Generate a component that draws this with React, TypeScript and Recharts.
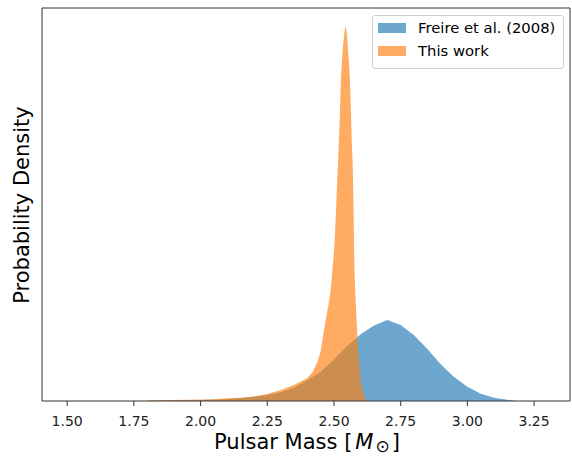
import React from 'react';
import { ComposedChart, Area, XAxis, YAxis, ReferenceLine, Legend } from 'recharts';

// Freire et al. (2008) histogram (pulsar mass -> probability density, axis tick units)
const freireMass = [1.80, 1.90, 2.00, 2.10, 2.20, 2.25, 2.30, 2.35, 2.40, 2.45, 2.50, 2.55, 2.60, 2.65, 2.70, 2.75, 2.80, 2.85, 2.90, 2.95, 3.00, 3.05, 3.10, 3.15, 3.18];
const freireDensity = [0.003, 0.01, 0.02, 0.04, 0.09, 0.13, 0.19, 0.29, 0.45, 0.63, 0.90, 1.20, 1.45, 1.64, 1.76, 1.65, 1.43, 1.13, 0.80, 0.52, 0.31, 0.16, 0.07, 0.025, 0.005];

// This work histogram
const thisWorkMass = [1.806, 1.85, 1.90, 1.95, 2.00, 2.05, 2.10, 2.15, 2.20, 2.25, 2.30, 2.35, 2.40, 2.42, 2.44, 2.45, 2.46, 2.47, 2.48, 2.485, 2.49, 2.495, 2.50, 2.504, 2.508, 2.512, 2.515, 2.519, 2.522, 2.526, 2.530, 2.535, 2.540, 2.543, 2.547, 2.551, 2.556, 2.560, 2.564, 2.566, 2.570, 2.572, 2.574, 2.576, 2.579, 2.582, 2.587, 2.590, 2.596, 2.600, 2.606, 2.614, 2.620, 2.625];
const thisWorkDensity = [0.01, 0.02, 0.02, 0.025, 0.03, 0.04, 0.06, 0.07, 0.10, 0.15, 0.24, 0.35, 0.50, 0.63, 0.88, 1.08, 1.45, 1.80, 2.10, 2.30, 2.55, 2.92, 3.25, 3.65, 4.20, 4.75, 5.17, 5.75, 6.22, 6.98, 7.40, 7.78, 8.05, 8.15, 8.05, 7.78, 7.35, 6.98, 6.22, 5.75, 5.17, 4.60, 3.90, 3.00, 2.50, 2.10, 1.48, 1.11, 0.75, 0.45, 0.25, 0.09, 0.02, 0];

const xTicks = [1.5, 1.75, 2.0, 2.25, 2.5, 2.75, 3.0, 3.25];
const yTicks = [0, 1, 2, 3, 4, 5, 6, 7, 8];
const X_MIN = 1.4056;
const X_MAX = 3.3846;
const Y_MAX = 8.54;

const seriesNames = ['Freire et al. (2008)', 'This work'];
const seriesColors = ['#1f77b4', '#ff7f0e'];

type Row = { x: number; freire?: number; thisWork?: number };
const rowMap = new Map<number, Row>();
freireMass.forEach((m, i) => {
  const r = rowMap.get(m) || { x: m };
  r.freire = freireDensity[i];
  rowMap.set(m, r);
});
thisWorkMass.forEach((m, i) => {
  const r = rowMap.get(m) || { x: m };
  r.thisWork = thisWorkDensity[i];
  rowMap.set(m, r);
});
const rows: Row[] = Array.from(rowMap.values()).sort((a, b) => a.x - b.x);

const FONT = '"DejaVu Sans", sans-serif';

const XLabel = (props: any) => {
  const vb = props.viewBox || { x: 0, y: 0, width: 0, height: 0 };
  const cx = vb.x + vb.width / 2 + 1;
  return (
    <text x={cx} y={vb.y + 48} textAnchor="middle" fontSize={21} fontFamily={FONT} fill="#000">
      Pulsar Mass [<tspan fontStyle="italic" dx={3}>M</tspan>
      <tspan fontSize={17} dx={2} dy={3}>⊙</tspan>
      <tspan dx={2} dy={-3}>]</tspan>
    </text>
  );
};

const YLabel = () => {
  const cy = 205;
  const bx = 29;
  return (
    <text
      x={bx}
      y={cy}
      textAnchor="middle"
      fontSize={21}
      fontFamily={FONT}
      fill="#000"
      transform={`rotate(-90, ${bx}, ${cy})`}
    >
      Probability Density
    </text>
  );
};

const LegendBox = () => (
  <div
    style={{
      width: 192,
      height: 54,
      border: '1px solid #d0d0d0',
      borderRadius: 3,
      background: 'rgba(255,255,255,0.8)',
      padding: '0 6px 0 5px',
      fontFamily: FONT,
      fontSize: 14.8,
      color: '#000',
      boxSizing: 'border-box',
    }}
  >
    {seriesNames.map((n, i) => (
      <div key={n} style={{ display: 'flex', alignItems: 'center', height: 23 }}>
        <span
          style={{
            display: 'inline-block',
            width: 28,
            height: 10,
            background: seriesColors[i],
            opacity: 0.65,
            marginRight: 12,
            flex: 'none',
          }}
        />
        <span style={{ lineHeight: '17px', whiteSpace: 'nowrap' }}>{n}</span>
      </div>
    ))}
  </div>
);

export default function App() {
  return (
    <div style={{ width: 572, height: 457, position: 'relative', background: '#fff' }}>
      <style>{`html, body { margin: 0; padding: 0; overflow: hidden; }`}</style>
      <ComposedChart
        width={572}
        height={457}
        data={rows}
        margin={{ top: 8, right: 2, bottom: 0, left: 0 }}
      >
        <XAxis
          dataKey="x"
          type="number"
          domain={[X_MIN, X_MAX]}
          allowDataOverflow
          ticks={xTicks}
          tickFormatter={(v: number) => v.toFixed(2)}
          tick={{ fontSize: 14, fontFamily: FONT, fill: '#222' }}
          tickSize={5}
          tickMargin={10}
          axisLine={{ stroke: '#333' }}
          tickLine={{ stroke: '#333' }}
          height={56}
          label={<XLabel />}
        />
        <YAxis
          type="number"
          domain={[0, Y_MAX]}
          allowDataOverflow
          ticks={yTicks}
          tick={false}
          tickSize={5}
          axisLine={{ stroke: '#333' }}
          tickLine={{ stroke: '#333' }}
          width={42}
          label={<YLabel />}
        />
        <Area
          dataKey="freire"
          name={seriesNames[0]}
          type="linear"
          fill={seriesColors[0]}
          fillOpacity={0.65}
          stroke="none"
          connectNulls
          isAnimationActive={false}
        />
        <Area
          dataKey="thisWork"
          name={seriesNames[1]}
          type="linear"
          fill={seriesColors[1]}
          fillOpacity={0.65}
          stroke="none"
          connectNulls
          isAnimationActive={false}
        />
        <ReferenceLine y={Y_MAX} stroke="#333" />
        <ReferenceLine x={X_MAX} stroke="#333" />
        <Legend
          layout="horizontal"
          verticalAlign="middle"
          align="center"
          content={<LegendBox />}
          wrapperStyle={{ top: 15, left: 372, width: 192, height: 54 }}
        />
      </ComposedChart>
    </div>
  );
}
